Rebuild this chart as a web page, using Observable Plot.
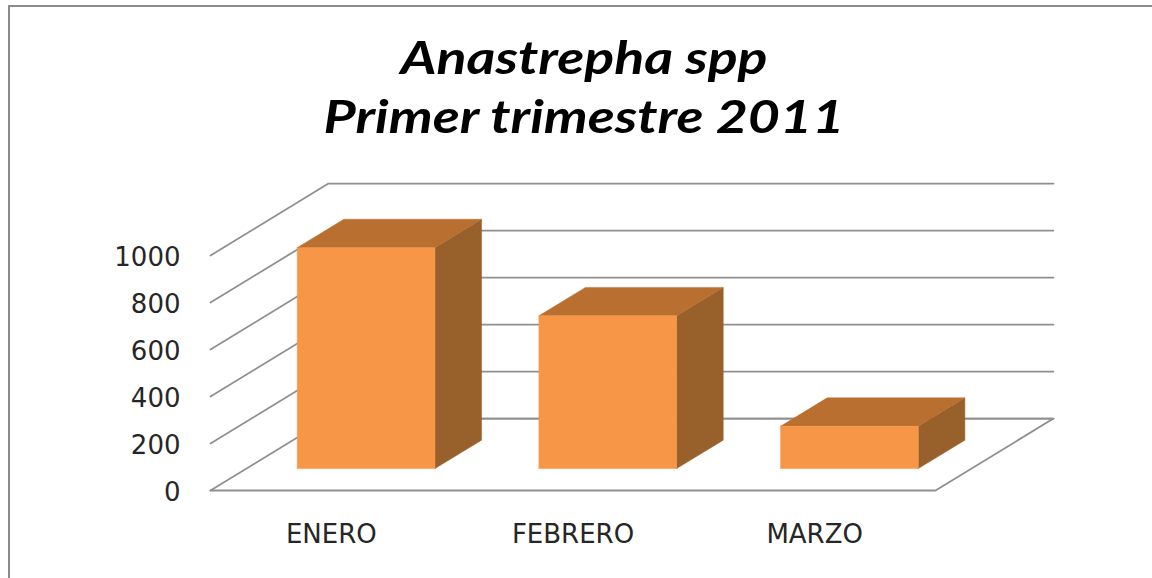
<!DOCTYPE html>
<html>
<head>
<meta charset="utf-8">
<script src="https://cdn.jsdelivr.net/npm/d3@7"></script>
<script src="https://cdn.jsdelivr.net/npm/@observablehq/plot@0.6"></script>
<style>
html,body{margin:0;padding:0;background:#fff;overflow:hidden}
#wrap{position:relative;width:1152px;height:578px}
#frame{position:absolute;left:8px;top:5px;right:0;bottom:0;border-left:2px solid #8c8c8c;border-top:2px solid #8c8c8c;pointer-events:none}
#title{height:170px;box-sizing:border-box;padding-top:28px;padding-left:16px;text-align:center;font-family:"Lato",sans-serif;font-weight:700;font-style:italic;font-size:45px;color:#000;white-space:nowrap}
#title div{height:59px;line-height:59px;transform:scaleX(1.233)}
svg{display:block}
</style>
</head>
<body>
<div id="wrap">
<div id="frame"></div>
<div id="title"><div>Anastrepha spp</div><div>Primer trimestre 2011</div></div>
<div id="chart"></div>
</div>
<script>
const categories = ["ENERO", "FEBRERO", "MARZO"];
const values = [940, 650, 180];
const tickValues = [0, 200, 400, 600, 800, 1000];
const colors = {front: "#F79646", top: "#B86F30", side: "#98602A", grid: "#8f8f8f", text: "#262626"};

// oblique projection: depth 0..1 shifts a point right (in category units) and up (in value units)
const depthX = 0.488, depthY = 306;
const barInset = 0.21, barWidth = 0.57, barFront = 0.305, barBack = 0.70;
const P = (cat, val, d) => ({x: cat + d * depthX, y: val + d * depthY});

const poly = (id, pts) => pts.map(p => ({...p, id}));
const tops = [], sides = [], fronts = [];
values.forEach((v, i) => {
  const a = i + barInset, b = a + barWidth;
  fronts.push(...poly(i, [P(a,0,barFront), P(b,0,barFront), P(b,v,barFront), P(a,v,barFront), P(a,0,barFront)]));
  tops.push(...poly(i, [P(a,v,barFront), P(b,v,barFront), P(b,v,barBack), P(a,v,barBack), P(a,v,barFront)]));
  sides.push(...poly(i, [P(b,0,barFront), P(b,v,barFront), P(b,v,barBack), P(b,0,barBack), P(b,0,barFront)]));
});

const wallLines = tickValues.flatMap(t => poly(t, [P(0,t,0), P(0,t,1), P(3,t,1)]));
const floorLines = poly("floor", [P(0,0,0), P(3,0,0), P(3,0,1), P(0,0,1)]);

const face = (data, fill) => Plot.line(data, {x: "x", y: "y", z: "id", fill, stroke: fill, strokeWidth: 0.5, curve: "linear"});

const chart = Plot.plot({
  width: 1152,
  height: 408,
  marginLeft: 210,
  marginRight: 217,
  marginBottom: 88,
  marginTop: 85,
  x: {domain: [0, 3], range: [210, 935]},
  y: {domain: [0, 1000], range: [320, 85]},
  style: {background: "transparent"},
  marks: [
    Plot.line(wallLines, {x: "x", y: "y", z: "id", stroke: colors.grid, strokeWidth: 1.8}),
    Plot.line(floorLines, {x: "x", y: "y", z: "id", stroke: colors.grid, strokeWidth: 1.8}),
    face(sides, colors.side),
    face(tops, colors.top),
    face(fronts, colors.front),
    Plot.axisY({ticks: tickValues, tickSize: 0, tickPadding: 30, label: null, anchor: "left", dy: 2,
      fontSize: 26, fontFamily: "DejaVu Sans", fill: colors.text, tickFormat: d => String(d)}),
    Plot.axisX({ticks: categories.map((c, i) => i + 0.5), tickFormat: d => categories[Math.floor(d)],
      tickSize: 0, tickPadding: 34, label: null, anchor: "bottom",
      fontSize: 26, fontFamily: "DejaVu Sans", fill: colors.text})
  ]
});
document.getElementById("chart").appendChild(chart);
</script>
</body>
</html>
